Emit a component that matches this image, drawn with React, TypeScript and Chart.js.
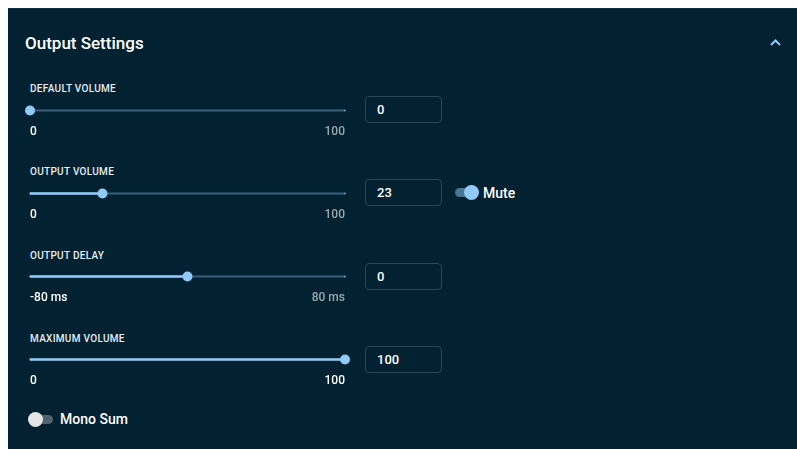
import React, { useEffect, useRef } from "react";
import { Chart, registerables } from "chart.js";

Chart.register(...registerables);

// ---- data ----
const panelTitle = "Output Settings";
const sliderLabels = ["DEFAULT VOLUME", "OUTPUT VOLUME", "OUTPUT DELAY", "MAXIMUM VOLUME"];
const sliderMins = [0, 0, -80, 0];
const sliderMaxs = [100, 100, 80, 100];
const sliderValues = [0, 23, 0, 100];
const sliderUnits = ["", "", " ms", ""];
const inputValues = ["0", "23", "0", "100"];
const muteLabel = "Mute";
const muteChecked = true;
const monoLabel = "Mono Sum";
const monoChecked = false;

// ---- style ----
const BG = "#022131";
const PRIMARY = "#90caf9";
const RAIL = "#38617c";
const FONT = "Roboto, 'Noto Sans', sans-serif";
const OFF = 8; // panel offset (body margin)
const TRACK_Y0 = 109;
const STEP = 83.33;

function SliderChart(props: { min: number; max: number; value: number; unit: string; trackY: number }) {
  const ref = useRef<HTMLCanvasElement | null>(null);
  const { min, max, value, unit, trackY } = props;
  useEffect(() => {
    if (!ref.current) return;
    const chart = new Chart(ref.current, {
      type: "scatter",
      data: {
        datasets: [
          {
            data: [{ x: value, y: 0 }],
            pointRadius: 5,
            pointBackgroundColor: PRIMARY,
            pointBorderWidth: 0,
            showLine: false,
            clip: false,
            order: 0,
          } as any,
          {
            data: [
              { x: min, y: 0 },
              { x: value, y: 0 },
            ],
            showLine: true,
            borderColor: PRIMARY,
            borderWidth: 2.5,
            pointRadius: 0,
            clip: false,
            order: 1,
          } as any,
          {
            data: [
              { x: min, y: 0 },
              { x: max, y: 0 },
            ],
            showLine: true,
            borderColor: RAIL,
            borderWidth: 2,
            pointRadius: 1,
            pointBorderWidth: 0,
            pointBackgroundColor: "#8fb6d6",
            pointStyle: "rect",
            clip: false,
            order: 2,
          } as any,
        ],
      },
      options: {
        responsive: false,
        animation: false,
        devicePixelRatio: 1,
        events: [],
        layout: { padding: { left: 10, right: 15, top: 0, bottom: 0 } },
        plugins: { legend: { display: false }, tooltip: { enabled: false } },
        scales: {
          x: {
            type: "linear",
            min,
            max,
            afterBuildTicks: (axis: any) => {
              axis.ticks = [{ value: min }, { value: max }];
            },
            grid: { display: false, drawTicks: false },
            border: { display: false },
            ticks: {
              align: "inner",
              autoSkip: false,
              maxRotation: 0,
              padding: 6,
              font: { family: FONT, size: 12, weight: "500" },
              color: (c: any) => (c.tick.value <= value ? "#ffffff" : "#9ba7ae"),
              callback: (v: any) => `${v}${unit}`,
            },
          },
          y: { display: false, min: -1, max: 1 },
        },
      } as any,
    });
    return () => chart.destroy();
  }, [min, max, value, unit]);
  return (
    <canvas
      ref={ref}
      width={340}
      height={44}
      style={{
        position: "absolute",
        left: 20 - OFF,
        top: Math.round(trackY - 13.5) - OFF,
        width: 340,
        height: 44,
      }}
    />
  );
}

function Switch(props: { checked: boolean; x: number; y: number }) {
  const { checked, x, y } = props;
  return (
    <div style={{ position: "absolute", left: x - OFF, top: Math.round(y - 7.5) - OFF, width: 26, height: 15 }}>
      <div
        style={{
          position: "absolute",
          left: 2,
          top: 3,
          width: 23,
          height: 9,
          borderRadius: 4.5,
          background: checked ? "#497694" : "#4e646e",
        }}
      />
      <div
        style={{
          position: "absolute",
          left: checked ? 10.5 : 0,
          top: 0,
          width: 15,
          height: 15,
          borderRadius: 7.5,
          background: checked ? PRIMARY : "#e6e6e6",
        }}
      />
    </div>
  );
}

export default function App() {
  const muteY = TRACK_Y0 + STEP - 0.5;
  return (
    <div
      style={{
        position: "fixed",
        left: OFF,
        top: OFF,
        right: 0,
        bottom: 0,
        background: BG,
        borderTop: "1px solid #0e2d3b",
        boxSizing: "border-box",
        overflow: "hidden",
        fontFamily: FONT,
        color: "#ffffff",
      }}
    >
      <div
        style={{
          position: "absolute",
          left: 25 - OFF,
          top: 32 - OFF,
          height: 20,
          lineHeight: "20px",
          fontSize: 17,
          fontWeight: 500,
          whiteSpace: "nowrap",
        }}
      >
        {panelTitle}
      </div>
      <svg width={20} height={14} style={{ position: "absolute", left: 766 - OFF, top: 35 - OFF }}>
        <polyline points="5,9 9.5,4.5 14,9" fill="none" stroke={PRIMARY} strokeWidth={2} />
      </svg>

      {sliderLabels.map((label, i) => {
        const trackY = TRACK_Y0 + i * STEP;
        return (
          <React.Fragment key={label}>
            <div
              style={{
                position: "absolute",
                left: 30 - OFF,
                top: trackY - 26.85 - OFF,
                height: 12,
                lineHeight: "12px",
                fontSize: 10,
                fontWeight: 500,
                letterSpacing: "0.3px",
                color: "#e8eef2",
                whiteSpace: "nowrap",
              }}
            >
              {label}
            </div>
            <SliderChart
              min={sliderMins[i]}
              max={sliderMaxs[i]}
              value={sliderValues[i]}
              unit={sliderUnits[i]}
              trackY={trackY}
            />
            <div
              style={{
                position: "absolute",
                left: 365 - OFF,
                top: Math.round(trackY - 14) - OFF,
                width: 77,
                height: 27,
                boxSizing: "border-box",
                border: "1px solid #2b4652",
                borderRadius: 4,
                display: "flex",
                alignItems: "center",
                paddingLeft: 11,
                fontSize: 13,
                fontWeight: 500,
                color: "#ffffff",
              }}
            >
              {inputValues[i]}
            </div>
          </React.Fragment>
        );
      })}

      <Switch checked={muteChecked} x={453} y={muteY} />
      <div
        style={{
          position: "absolute",
          left: 483 - OFF,
          top: muteY - 7.8 - OFF,
          height: 16,
          lineHeight: "16px",
          fontSize: 14,
          fontWeight: 500,
          whiteSpace: "nowrap",
        }}
      >
        {muteLabel}
      </div>

      <Switch checked={monoChecked} x={28} y={418} />
      <div
        style={{
          position: "absolute",
          left: 60 - OFF,
          top: 418 - 7.8 - OFF,
          height: 16,
          lineHeight: "16px",
          fontSize: 14,
          fontWeight: 500,
          whiteSpace: "nowrap",
        }}
      >
        {monoLabel}
      </div>
    </div>
  );
}
